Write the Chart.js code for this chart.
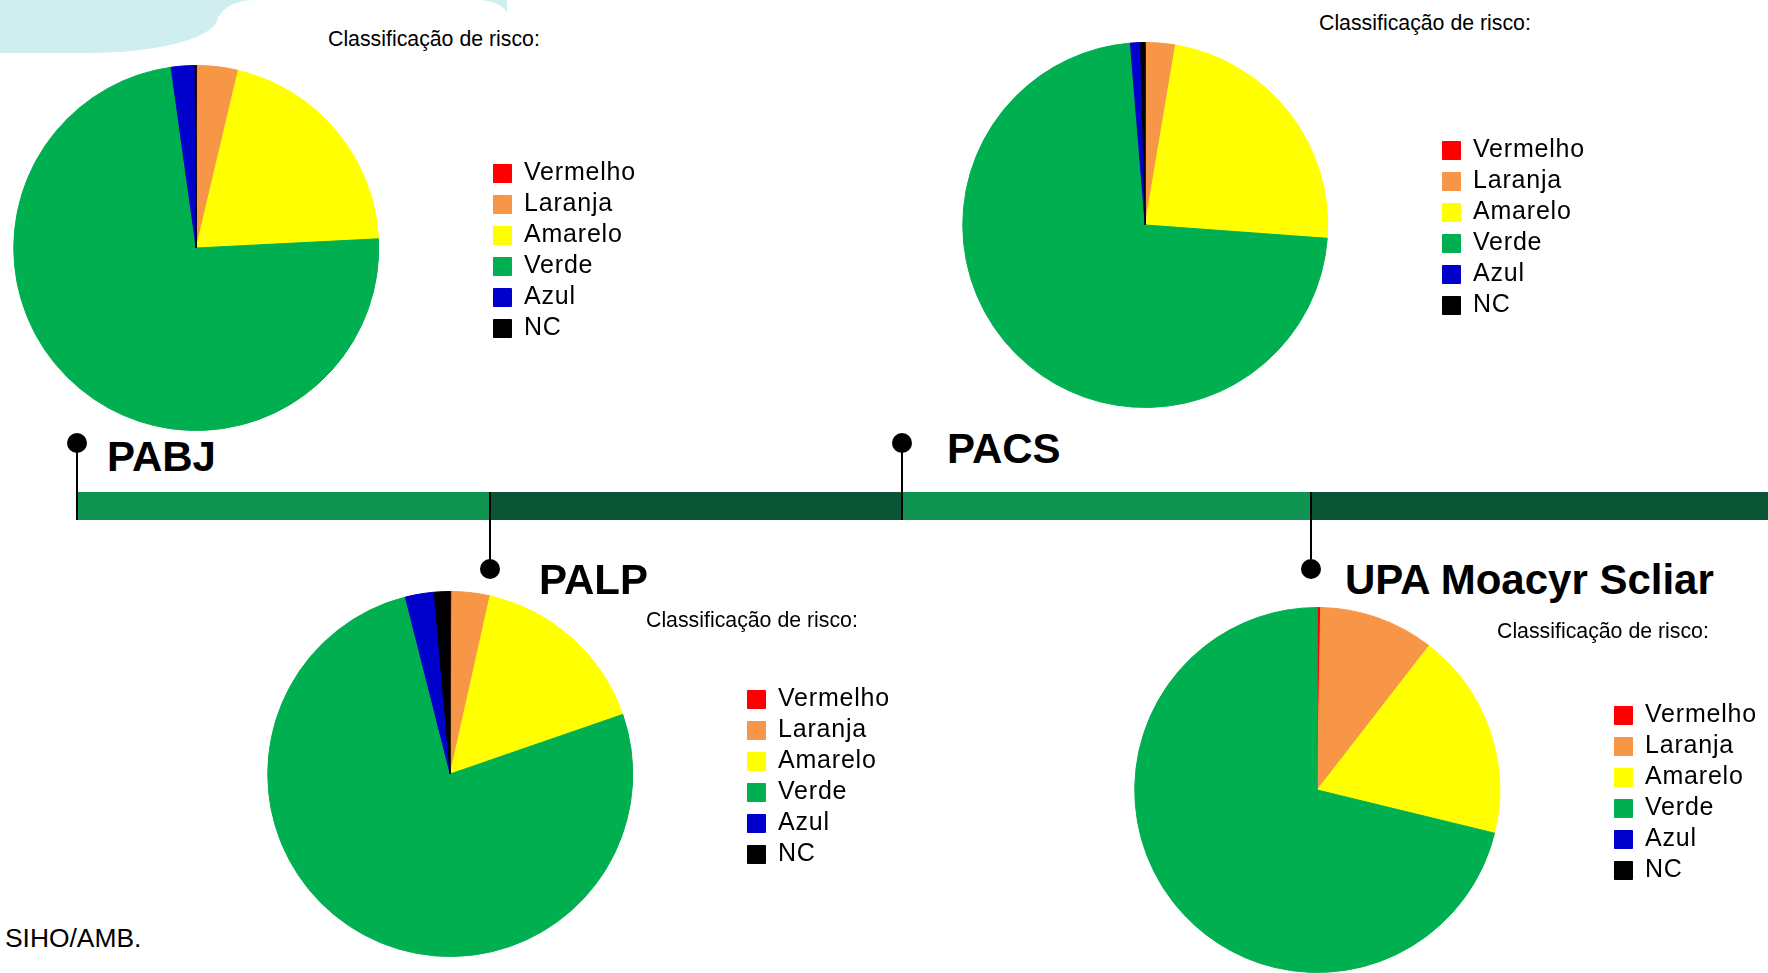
<!DOCTYPE html>
<html lang="pt-BR">
<head>
<meta charset="utf-8">
<title>Classificação de risco</title>
<script src="https://cdn.jsdelivr.net/npm/chart.js@4.4.1/dist/chart.umd.min.js"></script>
<style>
    html, body { margin: 0; padding: 0; background: #fff; }
    body {
        width: 1768px; height: 973px; position: relative; overflow: hidden;
        font-family: "Liberation Sans", Arial, sans-serif; color: #000;
    }
    .abs { position: absolute; }

    /* decorative shape top-left */
    .cloud-a { left: -100px; top: -100px; width: 318px; height: 153px; background: #d0edf0; border-bottom-right-radius: 130px 36px; }
    .cloud-b { left: 0; top: -20px; width: 507px; height: 36px; background: #d0edf0; }
    .cloud-c { left: 218px; top: 0; width: 289px; height: 40px; background: #fff; border-top-left-radius: 36px 22px; border-top-right-radius: 30px 15px; }

    /* timeline */
    .bar { top: 492px; height: 28px; }
    .light { background: #0f9350; }
    .dark { background: #0a5535; }
    .stem { width: 2px; background: #000; }
    .dot { width: 20px; height: 20px; border-radius: 50%; background: #000; }

    .unit { font-weight: bold; font-size: 42px; line-height: 1; white-space: nowrap; }
    .title { font-size: 21.3px; line-height: 1; white-space: nowrap; }
    .source { font-size: 26.4px; line-height: 1; }

    canvas { position: absolute; }
</style>
</head>
<body>

<div class="abs cloud-a"></div>
<div class="abs cloud-b"></div>
<div class="abs cloud-c"></div>

<div class="abs bar light" style="left:78px; width:413px;"></div>
<div class="abs bar dark" style="left:490px; width:412px;"></div>
<div class="abs bar light" style="left:902px; width:410px;"></div>
<div class="abs bar dark" style="left:1311px; width:457px;"></div>

<div class="abs stem" style="left:76px; top:443px; height:77px;"></div>
<div class="abs stem" style="left:901px; top:443px; height:77px;"></div>
<div class="abs stem" style="left:489px; top:492px; height:77px;"></div>
<div class="abs stem" style="left:1310px; top:492px; height:77px;"></div>

<div class="abs dot" style="left:67px; top:433px;"></div>
<div class="abs dot" style="left:892px; top:433px;"></div>
<div class="abs dot" style="left:480px; top:559px;"></div>
<div class="abs dot" style="left:1301px; top:559px;"></div>

<canvas id="pabj" width="741" height="366" style="left:-95px; top:65px;"></canvas>
<canvas id="pacs" width="741" height="366" style="left:854px; top:42px;"></canvas>
<canvas id="palp" width="741" height="366" style="left:159px; top:591px;"></canvas>
<canvas id="upa" width="741" height="366" style="left:1026px; top:607px;"></canvas>

<div class="abs unit" id="unit-0" style="left:107px; top:436px;"></div>
<div class="abs unit" id="unit-1" style="left:947px; top:428px;"></div>
<div class="abs unit" id="unit-2" style="left:539px; top:559px;"></div>
<div class="abs unit" id="unit-3" style="left:1345px; top:559px;"></div>

<div class="abs title" id="title-0" style="left:328px; top:29px;"></div>
<div class="abs title" id="title-1" style="left:1319px; top:13px;"></div>
<div class="abs title" id="title-2" style="left:646px; top:610px;"></div>
<div class="abs title" id="title-3" style="left:1497px; top:621px;"></div>

<div class="abs source" style="left:5px; top:925px;">SIHO/AMB.</div>

<script>
// categories and values (percent of attendances)
const categories = ['Vermelho', 'Laranja', 'Amarelo', 'Verde', 'Azul', 'NC'];
const unit_names = ['PABJ', 'PACS', 'PALP', 'UPA Moacyr Scliar'];
const chart_title = 'Classificação de risco:';

const pabj_values = [0.1, 3.6, 20.5, 73.6, 2.1, 0.1];
const pacs_values = [0.05, 2.6, 23.5, 72.5, 0.9, 0.4];
const palp_values = [0.15, 3.35, 16.2, 76.3, 2.55, 1.4];
const upa_values = [0.3, 10.2, 18.3, 71.2, 0, 0];

const slice_colors = ['#ff0000', '#f79646', '#ffff00', '#00b050', '#0000cc', '#000000'];

const font_family = '"Liberation Sans", Arial, sans-serif';

// legend text in the original is a bit wider than Arial
const letterSpacing = {
    id: 'letterSpacing',
    beforeUpdate(chart) { chart.ctx.letterSpacing = '0.8px'; },
    beforeDraw(chart) { chart.ctx.letterSpacing = '0.8px'; }
};

function renderPie(canvas_id, values) {
    const ctx = document.getElementById(canvas_id).getContext('2d');

    const data = {
        labels: categories,
        datasets: [
            {
                data: values,
                backgroundColor: slice_colors,
                borderColor: slice_colors,
                borderWidth: 1
            }
        ]
    };

    const config = {
        type: 'pie',
        data: data,
        plugins: [letterSpacing],
        options: {
            responsive: false,
            animation: false,
            layout: { padding: 0 },
            plugins: {
                legend: {
                    position: 'right',
                    // empty title only nudges the items down a little
                    title: { display: true, text: '', padding: 0, font: { size: 5 } },
                    labels: {
                        boxWidth: 18,
                        boxHeight: 18,
                        padding: 6,
                        color: '#000',
                        font: { family: font_family, size: 25 }
                    }
                },
                title: { display: false },
                tooltip: { enabled: false }
            }
        }
    };

    return new Chart(ctx, config);
}

unit_names.forEach((name, i) => {
    document.getElementById(`unit-${i}`).textContent = name;
    document.getElementById(`title-${i}`).textContent = chart_title;
});

renderPie('pabj', pabj_values);
renderPie('pacs', pacs_values);
renderPie('palp', palp_values);
renderPie('upa', upa_values);
</script>
</body>
</html>
